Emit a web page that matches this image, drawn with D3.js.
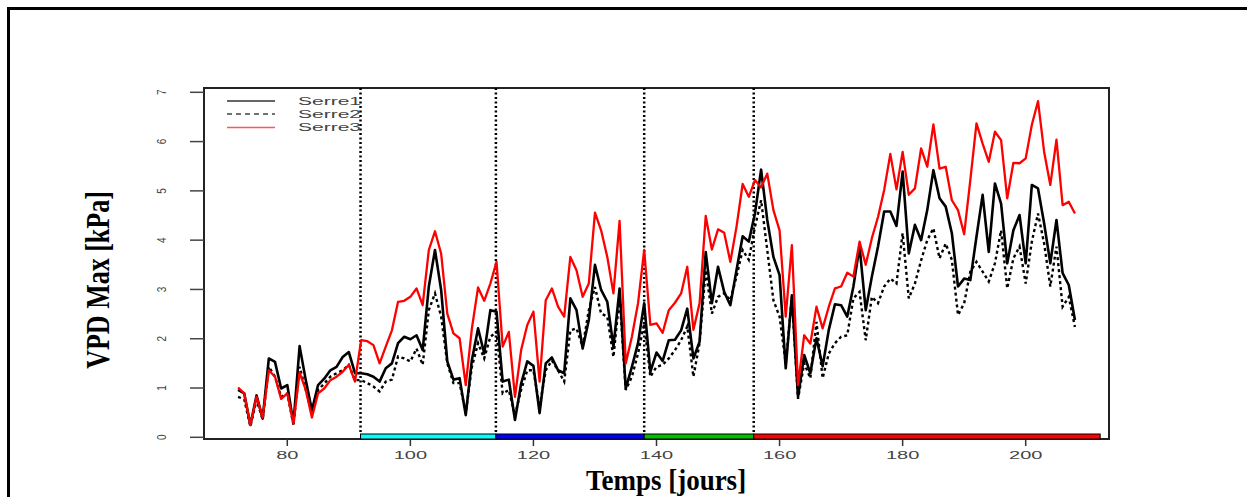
<!DOCTYPE html>
<html>
<head>
<meta charset="utf-8">
<script src="https://cdn.jsdelivr.net/npm/d3@7"></script>
<style>
  html, body { margin: 0; padding: 0; background: #fff; }
  svg { display: block; }
</style>
</head>
<body>
<svg id="chart" width="1247" height="497"></svg>
<script>
// ---------- DATA ----------
const days = [72,73,74,75,76,77,78,79,80,81,82,83,84,85,86,87,88,89,90,91,92,93,94,95,96,97,98,99,100,
  101,102,103,104,105,106,107,108,109,110,111,112,113,114,115,116,117,118,119,120,
  121,122,123,124,125,126,127,128,129,130,131,132,133,134,135,136,137,138,139,140,
  141,142,143,144,145,146,147,148,149,150,151,152,153,154,155,156,157,158,159,160,
  161,162,163,164,165,166,167,168,169,170,171,172,173,174,175,176,177,178,179,180,
  181,182,183,184,185,186,187,188,189,190,191,192,193,194,195,196,197,198,199,200,
  201,202,203,204,205,206,207,208];

const serre1 = [0.96,0.89,0.25,0.85,0.38,1.60,1.53,0.99,1.06,0.28,1.85,1.16,0.55,1.06,1.19,1.36,1.43,1.63,1.73,1.30,1.30,1.28,1.23,1.13,1.40,1.50,1.91,2.04,1.99,
  2.07,1.77,3.06,3.80,2.99,1.54,1.17,1.20,0.45,1.57,2.21,1.70,2.58,2.55,1.13,1.17,0.35,1.09,1.54,1.45,
  0.49,1.50,1.62,1.36,1.30,2.82,2.58,1.80,2.38,3.50,2.99,2.75,1.84,3.02,0.99,1.43,1.91,2.72,1.33,1.72,
  1.55,1.97,1.98,2.17,2.61,1.60,1.94,3.76,2.72,3.46,2.95,2.68,3.39,4.08,3.97,4.54,5.43,4.41,3.66,3.29,
  1.40,2.88,0.82,1.67,1.30,2.01,1.44,2.18,2.70,2.68,2.45,3.06,3.87,2.58,3.26,3.87,4.58,4.58,4.29,5.39,
  3.73,4.31,4.00,4.61,5.42,4.85,4.68,4.14,3.06,3.22,3.19,4.07,4.92,3.76,5.15,4.74,3.53,4.20,4.51,3.53,
  5.12,5.05,4.34,3.53,4.41,3.33,3.09,2.38];

const serre2 = [0.82,0.77,0.22,0.76,0.36,1.43,1.23,0.82,0.89,0.25,1.43,0.96,0.49,0.96,1.09,1.23,1.30,1.36,1.47,1.16,1.16,1.10,1.03,0.93,1.13,1.17,1.64,1.60,1.54,
  1.80,1.47,2.58,2.92,2.45,1.50,1.10,1.10,0.49,1.43,1.91,1.60,2.04,2.14,0.89,0.96,0.45,0.96,1.36,1.36,
  0.62,1.36,1.56,1.36,1.13,2.17,2.21,1.84,2.58,3.05,2.51,2.45,1.63,2.85,0.96,1.23,1.70,2.31,1.23,1.43,
  1.47,1.60,1.77,1.97,2.25,1.23,1.91,3.39,2.51,2.85,2.92,2.78,3.26,3.80,3.60,4.27,4.81,3.80,2.78,2.45,
  1.50,2.85,0.78,1.50,1.20,2.34,1.20,1.70,1.91,2.04,2.07,2.82,2.95,1.97,2.85,2.72,3.06,3.22,3.12,4.14,
  2.82,3.12,3.59,4.00,4.24,3.63,3.93,3.60,2.48,2.72,3.36,3.56,3.36,3.16,3.53,4.20,3.02,3.63,3.87,3.12,
  3.97,4.54,3.93,3.06,3.87,2.65,2.85,2.24];

const serre3 = [1.01,0.89,0.25,0.82,0.40,1.36,1.23,0.78,0.89,0.28,1.31,0.96,0.40,0.89,0.99,1.16,1.23,1.33,1.47,1.13,1.97,1.95,1.87,1.50,1.84,2.17,2.75,2.77,2.85,
  3.02,2.68,3.80,4.18,3.73,2.51,2.11,2.01,1.06,2.21,3.04,2.77,3.12,3.56,1.84,2.14,0.82,1.77,2.28,2.55,
  1.13,2.78,3.02,2.65,2.45,3.66,3.39,2.85,3.12,4.56,4.20,3.66,2.92,4.39,1.50,2.04,2.72,3.80,2.28,2.31,
  2.12,2.58,2.73,2.92,3.46,2.18,2.72,4.49,3.81,4.22,4.15,3.56,4.27,5.14,4.88,5.22,5.07,5.35,4.61,4.20,
  2.45,3.90,1.06,2.07,1.90,2.65,2.21,2.65,3.02,3.06,3.34,3.26,3.97,3.50,4.04,4.47,5.02,5.75,5.03,5.79,
  4.92,5.05,5.86,5.49,6.35,5.45,5.49,4.81,4.61,4.12,5.22,6.37,5.96,5.59,6.20,6.03,4.85,5.57,5.56,5.66,
  6.34,6.82,5.79,5.12,6.04,4.71,4.78,4.54];

const seriesNames = ["Serre1", "Serre2", "Serre3"];
const xTickValues = [80, 100, 120, 140, 160, 180, 200];
const xTickLabels = ["80", "100", "120", "140", "160", "180", "200"];
const yTickValues = [0, 1, 2, 3, 4, 5, 6, 7];
const phaseBreaks = [91.9, 113.9, 138.0, 155.8, 212.1];
const phaseColors = ["#00ffff", "#0000ff", "#00c000", "#ff0000"];
const xTitle = "Temps [jours]";
const yTitle = "VPD Max [kPa]";

// ---------- LAYOUT ----------
const svg = d3.select("#chart");
const box = { left: 204, right: 1109, top: 88, bottom: 439 };
const x = d3.scaleLinear().domain([80, 200]).range([287.3, 1025.7]);
const y = d3.scaleLinear().domain([0, 7]).range([437.3, 92.3]);

// outer frame
svg.append("rect").attr("x", 8.5).attr("y", 8.5).attr("width", 1300).attr("height", 600)
  .attr("fill", "none").attr("stroke", "#000").attr("stroke-width", 3);

// plot box
svg.append("rect").attr("x", box.left).attr("y", box.top)
  .attr("width", box.right - box.left).attr("height", box.bottom - box.top)
  .attr("fill", "none").attr("stroke", "#222").attr("stroke-width", 2);

// y axis ticks + labels
const yt = svg.append("g");
yt.selectAll("line").data(yTickValues).join("line")
  .attr("x1", 190).attr("x2", box.left).attr("y1", d => y(d)).attr("y2", d => y(d))
  .attr("stroke", "#444").attr("stroke-width", 1.5);
yt.selectAll("text").data(yTickValues).join("text")
  .attr("transform", d => `translate(166,${y(d)}) scale(1.3,1) rotate(-90)`)
  .attr("text-anchor", "middle")
  .attr("font-family", "Liberation Sans, Arial, sans-serif").attr("font-size", 10)
  .attr("fill", "#444").text(d => d);

// x axis ticks + labels
const xt = svg.append("g");
xt.selectAll("line").data(xTickValues).join("line")
  .attr("x1", d => x(d)).attr("x2", d => x(d)).attr("y1", box.bottom).attr("y2", 446)
  .attr("stroke", "#333").attr("stroke-width", 1.5);
xt.selectAll("text").data(xTickValues).join("text")
  .attr("transform", d => `translate(${x(d)},459) scale(2,1)`)
  .attr("text-anchor", "middle")
  .attr("font-family", "Liberation Sans, Arial, sans-serif").attr("font-size", 10)
  .attr("fill", "#444").text((d, i) => xTickLabels[i]);

// phase bars
const phases = phaseColors.map((c, i) => ({ a: phaseBreaks[i], b: phaseBreaks[i + 1], c }));
svg.append("g").selectAll("rect").data(phases).join("rect")
  .attr("x", d => x(d.a)).attr("width", d => x(d.b) - x(d.a))
  .attr("y", 434).attr("height", 5)
  .attr("fill", d => d.c).attr("stroke", "#000").attr("stroke-width", 1);

// vertical dotted separators
svg.append("g").selectAll("line").data(phaseBreaks.slice(0, 4)).join("line")
  .attr("x1", d => x(d)).attr("x2", d => x(d)).attr("y1", box.top).attr("y2", 434)
  .attr("stroke", "#000").attr("stroke-width", 2.5).attr("stroke-dasharray", "2,2.5");

// series lines
const line = vals => d3.line().x((d, i) => x(days[i])).y(d => y(d))(vals);
svg.append("path").attr("d", line(serre1)).attr("fill", "none")
  .attr("stroke", "#000").attr("stroke-width", 2.6).attr("stroke-linejoin", "round");
svg.append("path").attr("d", line(serre2)).attr("fill", "none")
  .attr("stroke", "#000").attr("stroke-width", 2.4).attr("stroke-dasharray", "3,3");
svg.append("path").attr("d", line(serre3)).attr("fill", "none")
  .attr("stroke", "#ff0000").attr("stroke-width", 2.3).attr("stroke-linejoin", "round");

// legend
const legendY = [101, 114, 127.5];
const legendStyles = [
  { stroke: "#333", dash: null },
  { stroke: "#444", dash: "5,4" },
  { stroke: "#ff5555", dash: null }
];
const lg = svg.append("g");
seriesNames.forEach((name, i) => {
  lg.append("line").attr("x1", 227).attr("x2", 275).attr("y1", legendY[i]).attr("y2", legendY[i])
    .attr("stroke", legendStyles[i].stroke).attr("stroke-width", 1.3)
    .attr("stroke-dasharray", legendStyles[i].dash);
  lg.append("text").attr("transform", `translate(298,${legendY[i] + 3.6}) scale(2.1,1)`)
    .attr("font-family", "Liberation Sans, Arial, sans-serif").attr("font-size", 10)
    .attr("fill", "#444").text(name);
});

// axis titles
svg.append("text").attr("transform", "translate(666,490) scale(1,1.1)").attr("text-anchor", "middle")
  .attr("font-family", "Liberation Serif, Times New Roman, serif").attr("font-weight", "bold")
  .attr("font-size", 27).attr("fill", "#000").text(xTitle);
svg.append("text").attr("transform", "translate(109,280) scale(1.3,1) rotate(-90)")
  .attr("text-anchor", "middle")
  .attr("font-family", "Liberation Serif, Times New Roman, serif").attr("font-weight", "bold")
  .attr("font-size", 26).attr("fill", "#000").text(yTitle);
</script>
</body>
</html>
